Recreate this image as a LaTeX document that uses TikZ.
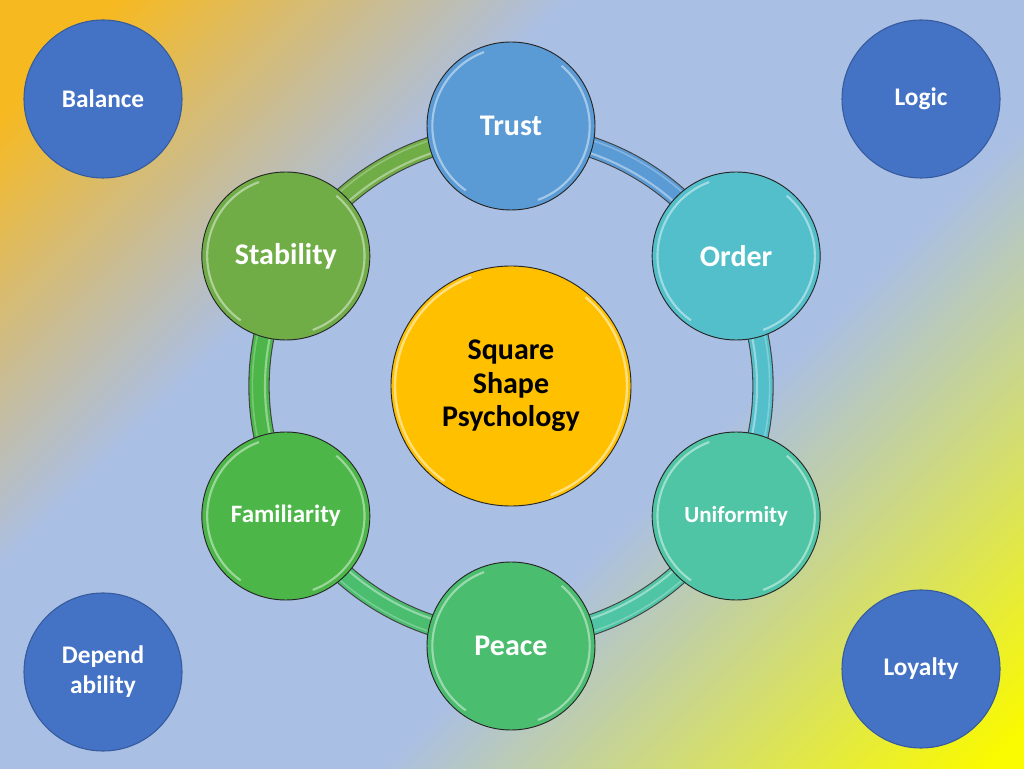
\documentclass[tikz,border=0pt]{standalone}
\usepackage{fontspec}
\setmainfont{Carlito}
\usetikzlibrary{positioning}
\definecolor{bgorange}{HTML}{F7B920}
\definecolor{bgblue}{HTML}{AABFE4}
\definecolor{bgyellow}{HTML}{FAFA00}
\definecolor{cornerblue}{HTML}{4472C4}
\definecolor{hubgold}{HTML}{FFC000}
\definecolor{ctrust}{HTML}{5B9BD5}
\definecolor{corder}{HTML}{52BFCB}
\definecolor{cunif}{HTML}{4FC5A5}
\definecolor{cpeace}{HTML}{4ABD6F}
\definecolor{cfamil}{HTML}{4CB748}
\definecolor{cstab}{HTML}{70AD47}
\pgfdeclarehorizontalshading{bgshade}{100bp}{color(0bp)=(bgorange); color(19bp)=(bgorange); color(37bp)=(bgblue); color(60bp)=(bgblue); color(84bp)=(bgyellow); color(100bp)=(bgyellow)}
\tikzset{
  bubble/.style={circle,fill=#1,draw=black!85,line width=0.7pt,minimum size=126pt,inner sep=0pt,
    text=white,align=center,font=\bfseries\fontsize{22.5}{26}\selectfont,
    path picture={
      \draw[white,opacity=.45,line width=1.6pt] ([shift={(110:59pt)}]path picture bounding box.center) arc (110:235:59pt);
      \draw[white,opacity=.45,line width=1.6pt] ([shift={(-70:59pt)}]path picture bounding box.center) arc (-70:50:59pt);}},
  hubnode/.style={circle,fill=hubgold,draw=black!85,line width=0.7pt,minimum size=180pt,inner sep=0pt,
    align=center,font=\bfseries\fontsize{22.5}{25}\selectfont,
    path picture={
      \draw[white,opacity=.5,line width=1.8pt] ([shift={(110:87pt)}]path picture bounding box.center) arc (110:235:87pt);
      \draw[white,opacity=.5,line width=1.8pt] ([shift={(-70:87pt)}]path picture bounding box.center) arc (-70:50:87pt);}},
  cornernode/.style={circle,fill=cornerblue,draw=cornerblue!80!black,line width=0.8pt,minimum size=118.5pt,inner sep=0pt,
    text=white,align=center,font=\bfseries\fontsize{19}{22.5}\selectfont},
}
\begin{document}
\begin{tikzpicture}[x=0.75pt,y=0.75pt]
  \useasboundingbox (0,0) rectangle (1024,768);
  \shade[shading=bgshade,shading angle=-45] (0,0) rectangle (1024,768);
  % corner circles
  \node[cornernode] (balance) at (103,669) {Balance};
  \node[cornernode] (logic) at (921,669) {Logic};
  \node[cornernode] (depend) at (103,96) {Depend\\ability};
  \node[cornernode] (loyalty) at (921,99) {Loyalty};
  % ring
  \coordinate (hubc) at (511,382);
  \foreach \a/\c in {90/ctrust,30/corder,-30/cunif,-90/cpeace,-150/cfamil,150/cstab}{
    \draw[black!75,line width=16pt] ([shift={(\a:189pt)}]hubc) arc (\a:\a-60:189pt);
    \draw[\c,line width=14.4pt] ([shift={(\a:189pt)}]hubc) arc (\a:\a-60:189pt);
    \draw[white,opacity=.4,line width=1.6pt] ([shift={(\a:184.5pt)}]hubc) arc (\a:\a-60:184.5pt);
    \draw[white,opacity=.25,line width=1.2pt] ([shift={(\a:194pt)}]hubc) arc (\a:\a-60:194pt);
  }
  \node[hubnode] (hub) at (hubc) {Square\\Shape\\Psychology};
  \node[bubble=ctrust] (trust) at ([shift={(90:195pt)}]hubc) {Trust};
  \node[bubble=corder] (order) at ([shift={(30:195pt)}]hubc) {Order};
  \node[bubble=cunif,font=\bfseries\fontsize{17.25}{20}\selectfont] (unif) at ([shift={(-30:195pt)}]hubc) {Uniformity};
  \node[bubble=cpeace] (peace) at ([shift={(-90:195pt)}]hubc) {Peace};
  \node[bubble=cfamil,font=\bfseries\fontsize{18.75}{22}\selectfont] (famil) at ([shift={(-150:195pt)}]hubc) {Familiarity};
  \node[bubble=cstab] (stab) at ([shift={(150:195pt)}]hubc) {Stability};
\end{tikzpicture}
\end{document}
